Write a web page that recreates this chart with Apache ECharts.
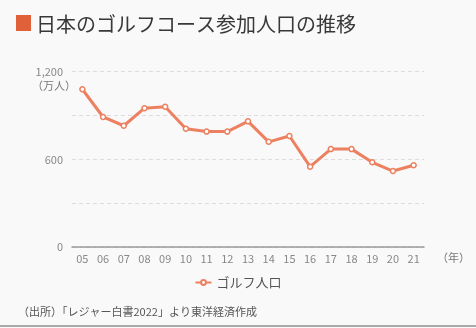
<!DOCTYPE html>
<html>
<head>
<meta charset="utf-8">
<script src="https://cdn.jsdelivr.net/npm/echarts@6/dist/echarts.min.js"></script>
<style>
html,body{margin:0;padding:0;background:#f9f9f9;}
#chart{width:476px;height:328px;}
</style>
</head>
<body>
<div id="chart"></div>
<script>
// Golf course participants in Japan (10k people)
const years = ['05','06','07','08','09','10','11','12','13','14','15','16','17','18','19','20','21'];
const golfPopulation = [1080, 890, 830, 950, 960, 810, 790, 790, 860, 720, 760, 550, 670, 670, 580, 520, 560];
const seriesName = 'ゴルフ人口';
const titleText = '日本のゴルフコース参加人口の推移';
const sourceText = '（出所）「レジャー白書2022」より東洋経済作成';

const FONT = '"Noto Sans CJK JP", "Noto Sans", sans-serif';
const chart = echarts.init(document.getElementById('chart'), null, {renderer: 'canvas'});

chart.setOption({
  backgroundColor: '#f9f9f9',
  animation: false,
  textStyle: {fontFamily: FONT},
  title: {
    text: titleText,
    left: 31,
    top: 9,
    textStyle: {fontSize: 20, fontWeight: 'normal', color: '#383838', fontFamily: FONT}
  },
  graphic: [
    {type: 'rect', shape: {x: 16, y: 15, width: 15, height: 16}, style: {fill: '#e0603a'}},
    {type: 'text', left: 32, top: 80, style: {text: '（万人）', fill: '#777', font: '11px ' + FONT}},
    {type: 'text', left: 437, top: 252, style: {text: '（年）', fill: '#777', font: '11px ' + FONT}},
    {type: 'text', left: 18, top: 306, style: {text: sourceText, fill: '#555', font: '11px ' + FONT}},
    {type: 'rect', shape: {x: 0, y: 325, width: 476, height: 2}, style: {fill: '#aaa'}}
  ],
  legend: {
    data: [seriesName],
    bottom: 34,
    left: 'center',
    itemWidth: 16,
    itemHeight: 6,
    textStyle: {fontSize: 13, color: '#555', fontFamily: FONT}
  },
  grid: {left: 72, right: 52, top: 71.7, bottom: 81},
  xAxis: {
    type: 'category',
    data: years,
    boundaryGap: true,
    axisLine: {lineStyle: {color: '#999', width: 1.5}},
    axisTick: {alignWithLabel: true, length: 5, lineStyle: {color: '#999'}},
    axisLabel: {color: '#888', fontSize: 11, margin: 6}
  },
  yAxis: {
    type: 'value',
    min: 0,
    max: 1200,
    interval: 300,
    axisLine: {show: false},
    axisTick: {show: false},
    axisLabel: {
      color: '#888',
      fontSize: 11,
      margin: 9,
      formatter: v => (v % 600 === 0 ? v.toLocaleString('en-US') : '')
    },
    splitLine: {lineStyle: {color: '#ddd', type: [4, 3]}}
  },
  series: [{
    name: seriesName,
    type: 'line',
    data: golfPopulation,
    color: '#ec8060',
    symbol: 'circle',
    symbolSize: 5,
    lineStyle: {width: 3, color: '#ec8060'},
    itemStyle: {color: '#fff', borderColor: '#ec8060', borderWidth: 1.5}
  }]
});
</script>
</body>
</html>
